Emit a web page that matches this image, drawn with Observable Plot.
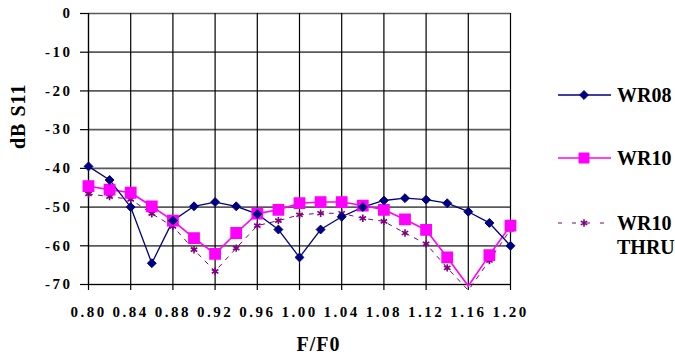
<!DOCTYPE html>
<html>
<head>
<meta charset="utf-8">
<script src="https://cdn.jsdelivr.net/npm/d3@7"></script>
<script src="https://cdn.jsdelivr.net/npm/@observablehq/plot@0.6"></script>
<style>
  html, body { margin: 0; padding: 0; background: #fff; }
  #wrap { position: relative; width: 675px; height: 364px; }
  #legend { position: absolute; left: 0; top: 0; }
  svg, svg text { font-family: "Liberation Serif", "Times New Roman", serif !important; font-weight: bold; }
</style>
</head>
<body>
<div id="wrap"><div id="chart"></div><svg id="legend" width="675" height="364"></svg></div>
<script>
const freq = [0.80,0.82,0.84,0.86,0.88,0.90,0.92,0.94,0.96,0.98,1.00,1.02,1.04,1.06,1.08,1.10,1.12,1.14,1.16,1.18,1.20];
const wr08 = [-39.5,-43,-50,-64.5,-53.5,-49.8,-48.7,-49.8,-51.8,-55.8,-63,-55.8,-52.5,-50,-48.3,-47.7,-48.1,-49,-51.2,-54.1,-60];
const wr10 = [-44.6,-45.5,-46.3,-49.8,-53.5,-58,-62.1,-56.7,-51.7,-50.7,-49,-48.7,-48.7,-49.6,-50.7,-53.2,-55.9,-63,-70.4,-62.4,-54.8];
const wr10thru = [-46.6,-47.3,-48,-51.7,-55,-61,-66.6,-60.6,-54.8,-53.5,-52,-51.6,-51.6,-52.9,-53.7,-56.7,-59.5,-65.7,-71.5,-63.8,-55.8];
const seriesNames = ["WR08", "WR10", "WR10 THRU"];
const xTicks = [0.80,0.84,0.88,0.92,0.96,1.00,1.04,1.08,1.12,1.16,1.20];
const yTicks = [0,-10,-20,-30,-40,-50,-60,-70];
const xLabel = "F/F0";
const yLabel = "dB S11";

const navy = "#000080", magenta = "#FF00FF", purple = "#800080";
const font = '"Liberation Serif", "Times New Roman", serif';

const rows = (vals) => freq.map((f, i) => ({f, v: vals[i]}));
const d08 = rows(wr08), d10 = rows(wr10), dth = rows(wr10thru);
const inside = d => d.v >= -70;

const chart = Plot.plot({
  width: 675, height: 364,
  marginLeft: 88, marginRight: 165, marginTop: 13, marginBottom: 80,
  x: {domain: [0.80, 1.20]},
  y: {domain: [-70, 0]},
  style: {fontFamily: font, fontWeight: "bold", fontSize: "15px", color: "#000", background: "#fff"},
  marks: [
    Plot.ruleY(yTicks, {stroke: "#5a5a5a", strokeWidth: 1.7}),
    Plot.ruleX(xTicks, {stroke: "#000", strokeWidth: 1.2}),
    Plot.axisX({ticks: xTicks, tickSize: 6, tickPadding: 16, tickFormat: d3.format(".2f"), label: null, stroke: "#000", strokeWidth: 1.2, strokeOpacity: 1}),
    Plot.axisY({ticks: yTicks, tickSize: 8, tickPadding: 8, tickFormat: d => String(d), label: null, stroke: "#000", strokeWidth: 1.2, strokeOpacity: 1}),
    Plot.ruleY([-70], {stroke: "#000", strokeWidth: 1.2}),
    Plot.ruleX([0.80], {stroke: "#000", strokeWidth: 1.2}),
    Plot.line(dth, {x: "f", y: "v", stroke: purple, strokeWidth: 1, strokeDasharray: "4,6"}),
    Plot.line(d10, {x: "f", y: "v", stroke: magenta, strokeWidth: 1.6}),
    Plot.line(d08, {x: "f", y: "v", stroke: navy, strokeWidth: 1.3}),
    Plot.dot(dth.filter(inside), {x: "f", y: "v", symbol: "asterisk", r: 3.5, stroke: purple, strokeWidth: 1.6}),
    Plot.dot(d10.filter(inside), {x: "f", y: "v", symbol: "square", r: 5.8, fill: magenta, stroke: magenta}),
    Plot.dot(d08.filter(inside), {x: "f", y: "v", symbol: "diamond2", r: 4, fill: navy, stroke: navy, strokeWidth: 1}),
    Plot.text([yLabel], {frameAnchor: "left", dx: -70, rotate: -90, fontSize: 20, fontWeight: "bold", fill: "#000"}),
    Plot.text([xLabel], {frameAnchor: "bottom", dx: 19, dy: 66, fontSize: 20, fontWeight: "bold", fill: "#000"})
  ]
});
d3.select(chart).selectAll("text").each(function() {
  const t = d3.select(this);
  if (t.text().includes("−")) t.text(t.text().replace(/−/g, "-"));
});
d3.select(chart).selectAll('g[aria-label="x-axis tick label"] text, g[aria-label="y-axis tick label"] text').style("letter-spacing", "2.5px");
d3.select(chart).selectAll('g[aria-label="text"] text').style("letter-spacing", "1px");
document.getElementById("chart").appendChild(chart);

const lg = d3.select("#legend");
const items = [
  {name: seriesNames[0], color: navy, sym: d3.symbolDiamond2, size: 50, fill: navy, dash: null, y: 95},
  {name: seriesNames[1], color: magenta, sym: d3.symbolSquare, size: 100, fill: magenta, dash: null, y: 158},
  {name: seriesNames[2], color: purple, sym: d3.symbolAsterisk, size: 38, fill: "none", dash: "4,10", y: 223}
];
items.forEach(it => {
  const g = lg.append("g");
  g.append("line").attr("x1", 558).attr("x2", 611).attr("y1", it.y).attr("y2", it.y)
    .attr("stroke", it.color).attr("stroke-width", it.dash ? 1 : (it.color === navy ? 1.3 : 1.6))
    .attr("stroke-dasharray", it.dash);
  g.append("path").attr("d", d3.symbol(it.sym, it.size)())
    .attr("transform", `translate(584,${it.y})`)
    .attr("fill", it.fill).attr("stroke", it.color).attr("stroke-width", it.dash ? 1.6 : 1);
  it.name.split(" ").forEach((w, i) => {
    g.append("text").attr("x", 617).attr("y", it.y + 7 + i * 24).attr("font-size", 20).attr("fill", "#000").text(w);
  });
});
</script>
</body>
</html>
